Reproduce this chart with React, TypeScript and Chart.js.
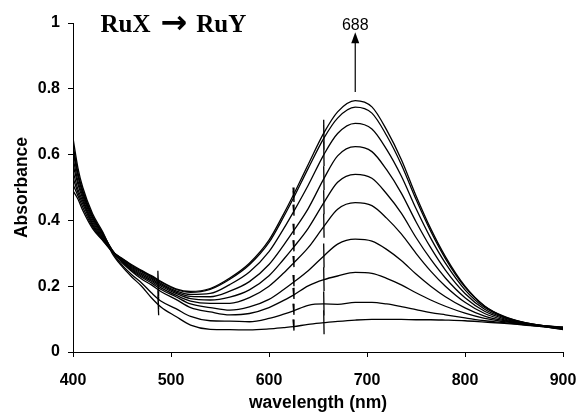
import React, { useEffect, useRef } from "react";
import { Chart, registerables } from "chart.js";

Chart.register(...registerables);

// Wavelength grid (nm) shared by all spectra
const wavelengths = [
  400, 405, 410, 420, 430, 440, 450, 460, 470, 480,
  490, 505, 520, 540, 560, 580, 600,
  615, 625, 640, 656, 670, 688, 705, 720, 735,
  750, 765, 780, 800, 820, 840, 860, 880, 900,
];

// Absorbance spectra, highest final band first
const spectrum1 = [0.49, 0.465, 0.43, 0.375, 0.34, 0.305, 0.285, 0.265, 0.248, 0.232, 0.214, 0.192, 0.184, 0.193, 0.225, 0.27, 0.34, 0.42, 0.478, 0.57, 0.666, 0.73, 0.764, 0.745, 0.675, 0.585, 0.475, 0.375, 0.29, 0.2, 0.14, 0.108, 0.09, 0.08, 0.076];
const spectrum2 = [0.51, 0.475, 0.44, 0.38, 0.342, 0.306, 0.284, 0.263, 0.246, 0.23, 0.212, 0.19, 0.181, 0.19, 0.221, 0.265, 0.333, 0.411, 0.468, 0.558, 0.65, 0.711, 0.744, 0.726, 0.658, 0.57, 0.464, 0.367, 0.284, 0.197, 0.139, 0.107, 0.09, 0.08, 0.075];
const spectrum3 = [0.53, 0.485, 0.45, 0.385, 0.345, 0.306, 0.282, 0.26, 0.243, 0.227, 0.208, 0.186, 0.175, 0.178, 0.205, 0.243, 0.305, 0.375, 0.426, 0.507, 0.6, 0.664, 0.695, 0.678, 0.616, 0.535, 0.436, 0.346, 0.27, 0.189, 0.135, 0.106, 0.089, 0.08, 0.074];
const spectrum4 = [0.55, 0.495, 0.458, 0.39, 0.348, 0.307, 0.28, 0.257, 0.239, 0.223, 0.204, 0.182, 0.169, 0.168, 0.185, 0.214, 0.266, 0.325, 0.368, 0.436, 0.527, 0.596, 0.624, 0.609, 0.554, 0.483, 0.396, 0.317, 0.249, 0.178, 0.13, 0.104, 0.088, 0.079, 0.073];
const spectrum5 = [0.57, 0.51, 0.466, 0.396, 0.351, 0.308, 0.278, 0.254, 0.235, 0.219, 0.2, 0.178, 0.162, 0.158, 0.167, 0.189, 0.232, 0.282, 0.318, 0.376, 0.454, 0.516, 0.54, 0.528, 0.481, 0.422, 0.348, 0.282, 0.225, 0.165, 0.124, 0.101, 0.087, 0.079, 0.072];
const spectrum6 = [0.59, 0.52, 0.474, 0.402, 0.355, 0.309, 0.276, 0.251, 0.231, 0.215, 0.195, 0.173, 0.155, 0.148, 0.148, 0.165, 0.2, 0.24, 0.27, 0.317, 0.382, 0.434, 0.454, 0.445, 0.407, 0.359, 0.3, 0.246, 0.2, 0.151, 0.117, 0.098, 0.086, 0.078, 0.071];
const spectrum7 = [0.61, 0.535, 0.482, 0.408, 0.359, 0.31, 0.274, 0.248, 0.227, 0.21, 0.19, 0.168, 0.146, 0.135, 0.127, 0.137, 0.16, 0.19, 0.212, 0.247, 0.292, 0.328, 0.343, 0.337, 0.312, 0.278, 0.237, 0.2, 0.168, 0.134, 0.109, 0.095, 0.085, 0.078, 0.07];
const spectrum8 = [0.63, 0.545, 0.49, 0.414, 0.363, 0.31, 0.272, 0.245, 0.222, 0.204, 0.183, 0.16, 0.135, 0.122, 0.113, 0.117, 0.135, 0.157, 0.173, 0.201, 0.22, 0.231, 0.242, 0.239, 0.224, 0.204, 0.18, 0.158, 0.139, 0.118, 0.102, 0.092, 0.084, 0.077, 0.07];
const spectrum9 = [0.65, 0.56, 0.5, 0.42, 0.367, 0.305, 0.265, 0.235, 0.21, 0.18, 0.154, 0.132, 0.108, 0.095, 0.094, 0.092, 0.102, 0.115, 0.125, 0.142, 0.146, 0.145, 0.151, 0.151, 0.146, 0.138, 0.129, 0.12, 0.113, 0.104, 0.095, 0.089, 0.083, 0.077, 0.069];
const spectrum10 = [0.62, 0.54, 0.485, 0.41, 0.36, 0.3, 0.26, 0.228, 0.2, 0.165, 0.136, 0.108, 0.082, 0.069, 0.068, 0.067, 0.07, 0.074, 0.077, 0.084, 0.089, 0.093, 0.097, 0.099, 0.099, 0.099, 0.098, 0.098, 0.097, 0.095, 0.091, 0.087, 0.082, 0.077, 0.068];

const spectra = [spectrum1, spectrum2, spectrum3, spectrum4, spectrum5, spectrum6, spectrum7, spectrum8, spectrum9, spectrum10];

// Instrument glitches: per-spectrum spike top and bottom at three wavelengths
const glitchWavelengths = [487, 625, 656];
const glitchHalfWidths = [0.4, 0.5, 0.2];
const glitchHigh487 = [0.247, 0.245, 0.241, 0.237, 0.233, 0.229, 0.224, 0.218, 0.188, 0.172];
const glitchLow487 = [0.187, 0.185, 0.181, 0.177, 0.173, 0.169, 0.164, 0.158, 0.128, 0.112];
const glitchHigh625 = [0.5, 0.49, 0.448, 0.39, 0.34, 0.292, 0.234, 0.195, 0.147, 0.099];
const glitchLow625 = [0.466, 0.456, 0.414, 0.356, 0.306, 0.258, 0.2, 0.161, 0.113, 0.065];
const glitchHigh656 = [0.706, 0.69, 0.64, 0.565, 0.492, 0.42, 0.33, 0.258, 0.184, 0.127];
const glitchLow656 = [0.631, 0.615, 0.565, 0.492, 0.419, 0.347, 0.257, 0.185, 0.111, 0.054];
const glitchHighs = [glitchHigh487, glitchHigh625, glitchHigh656];
const glitchLows = [glitchLow487, glitchLow625, glitchLow656];

const xTicks = [400, 500, 600, 700, 800, 900];
const yTicks = [0, 0.2, 0.4, 0.6, 0.8, 1];

const titleFrom = "RuX";
const titleArrow = "\u2192";
const titleTo = "RuY";
const peakLabel = "688";
const peakWavelength = 688;

const SANS = "'Liberation Sans', Arial, sans-serif";
const SERIF = "'Liberation Serif', 'Times New Roman', serif";

export default function App() {
  const ref = useRef<HTMLCanvasElement>(null);

  useEffect(() => {
    document.body.style.margin = "0";
    const canvas = ref.current;
    if (!canvas) return;

    const annotations = {
      id: "annotations",
      afterDatasetsDraw(chart: any) {
        const { ctx, scales } = chart;
        const xs = scales.x;
        const ys = scales.y;
        ctx.save();
        ctx.fillStyle = "#000";
        ctx.strokeStyle = "#000";
        // title: RuX → RuY
        const tx = xs.getPixelForValue(428);
        const ty = ys.getPixelForValue(0.973);
        ctx.textAlign = "left";
        ctx.textBaseline = "alphabetic";
        ctx.font = `bold 25px ${SERIF}`;
        ctx.fillText(titleFrom, tx, ty);
        let cx = tx + ctx.measureText(titleFrom).width + 10;
        ctx.font = `bold 32px 'DejaVu Sans', sans-serif`;
        ctx.fillText(titleArrow, cx, ty + 1);
        cx += ctx.measureText(titleArrow).width + 9;
        ctx.font = `bold 25px ${SERIF}`;
        ctx.fillText(titleTo, cx, ty);
        // peak label
        const px = xs.getPixelForValue(peakWavelength);
        ctx.font = `16px ${SANS}`;
        ctx.textAlign = "center";
        ctx.fillText(peakLabel, px, ys.getPixelForValue(0.978));
        // arrow
        const yTip = ys.getPixelForValue(0.972);
        const yBase = ys.getPixelForValue(0.79);
        ctx.lineWidth = 1.2;
        ctx.beginPath();
        ctx.moveTo(px, yBase);
        ctx.lineTo(px, yTip + 8);
        ctx.stroke();
        ctx.beginPath();
        ctx.moveTo(px, yTip);
        ctx.lineTo(px - 4, yTip + 11);
        ctx.lineTo(px + 4, yTip + 11);
        ctx.closePath();
        ctx.fill();
        ctx.restore();
      },
    };

    const spectrumSets = spectra.map((s, k) => ({
      label: `t${k}`,
      data: wavelengths.map((w, i) => ({ x: w, y: s[i] })),
      borderColor: "#000",
      borderWidth: 1.3,
      pointRadius: 0,
      fill: false,
      cubicInterpolationMode: "monotone" as const,
    }));

    const glitchSets = glitchWavelengths.map((w, g) => ({
      label: `glitch${w}`,
      data: glitchHighs[g].flatMap((hi, i) => [
        { x: w - glitchHalfWidths[g], y: hi },
        { x: w + glitchHalfWidths[g], y: glitchLows[g][i] },
        { x: w + glitchHalfWidths[g], y: null },
      ]),
      borderColor: "#000",
      borderWidth: 1.3,
      pointRadius: 0,
      fill: false,
      tension: 0,
      spanGaps: false,
    }));

    const chart = new Chart(canvas, {
      type: "line",
      data: { datasets: [...spectrumSets, ...glitchSets] },
      options: {
        responsive: false,
        animation: false,
        events: [],
        layout: { padding: { top: 23, right: 16, left: 0, bottom: 0 } },
        plugins: { legend: { display: false }, tooltip: { enabled: false } },
        scales: {
          x: {
            type: "linear",
            min: 400,
            max: 900,
            afterBuildTicks: (s: any) => {
              s.ticks = xTicks.map((v) => ({ value: v }));
            },
            afterFit: (s: any) => {
              s.height = 62;
              s.paddingLeft = 0;
              s.paddingRight = 0;
            },
            grid: { display: true, drawOnChartArea: false, drawTicks: true, tickLength: 5, color: "#000", lineWidth: 1 },
            border: { display: true, color: "#000", width: 1 },
            ticks: {
              color: "#000",
              font: { family: SANS, size: 16, weight: "bold" },
              padding: 14,
              maxRotation: 0,
              callback: (v: any) => String(v),
            },
            title: {
              display: true,
              text: "wavelength (nm)",
              color: "#000",
              font: { family: SANS, size: 17.5, weight: "bold" },
              padding: { top: 0, bottom: 0 },
            },
          },
          y: {
            type: "linear",
            min: 0,
            max: 1,
            afterBuildTicks: (s: any) => {
              s.ticks = yTicks.map((v) => ({ value: v }));
            },
            afterFit: (s: any) => {
              s.width = 73;
              s.paddingTop = 0;
              s.paddingBottom = 0;
            },
            grid: { display: true, drawOnChartArea: false, drawTicks: true, tickLength: 5, color: "#000", lineWidth: 1 },
            border: { display: true, color: "#000", width: 1 },
            ticks: {
              color: "#000",
              font: { family: SANS, size: 16, weight: "bold" },
              padding: 8,
              callback: (v: any) => String(v),
            },
            title: {
              display: true,
              text: "Absorbance",
              color: "#000",
              font: { family: SANS, size: 17.5, weight: "bold" },
              padding: { top: 12, bottom: 0 },
            },
          },
        },
      },
      plugins: [annotations],
    } as any);

    return () => chart.destroy();
  }, []);

  return (
    <div style={{ width: 579, height: 414 }}>
      <canvas ref={ref} width={579} height={414} style={{ width: 579, height: 414, display: "block" }} />
    </div>
  );
}
